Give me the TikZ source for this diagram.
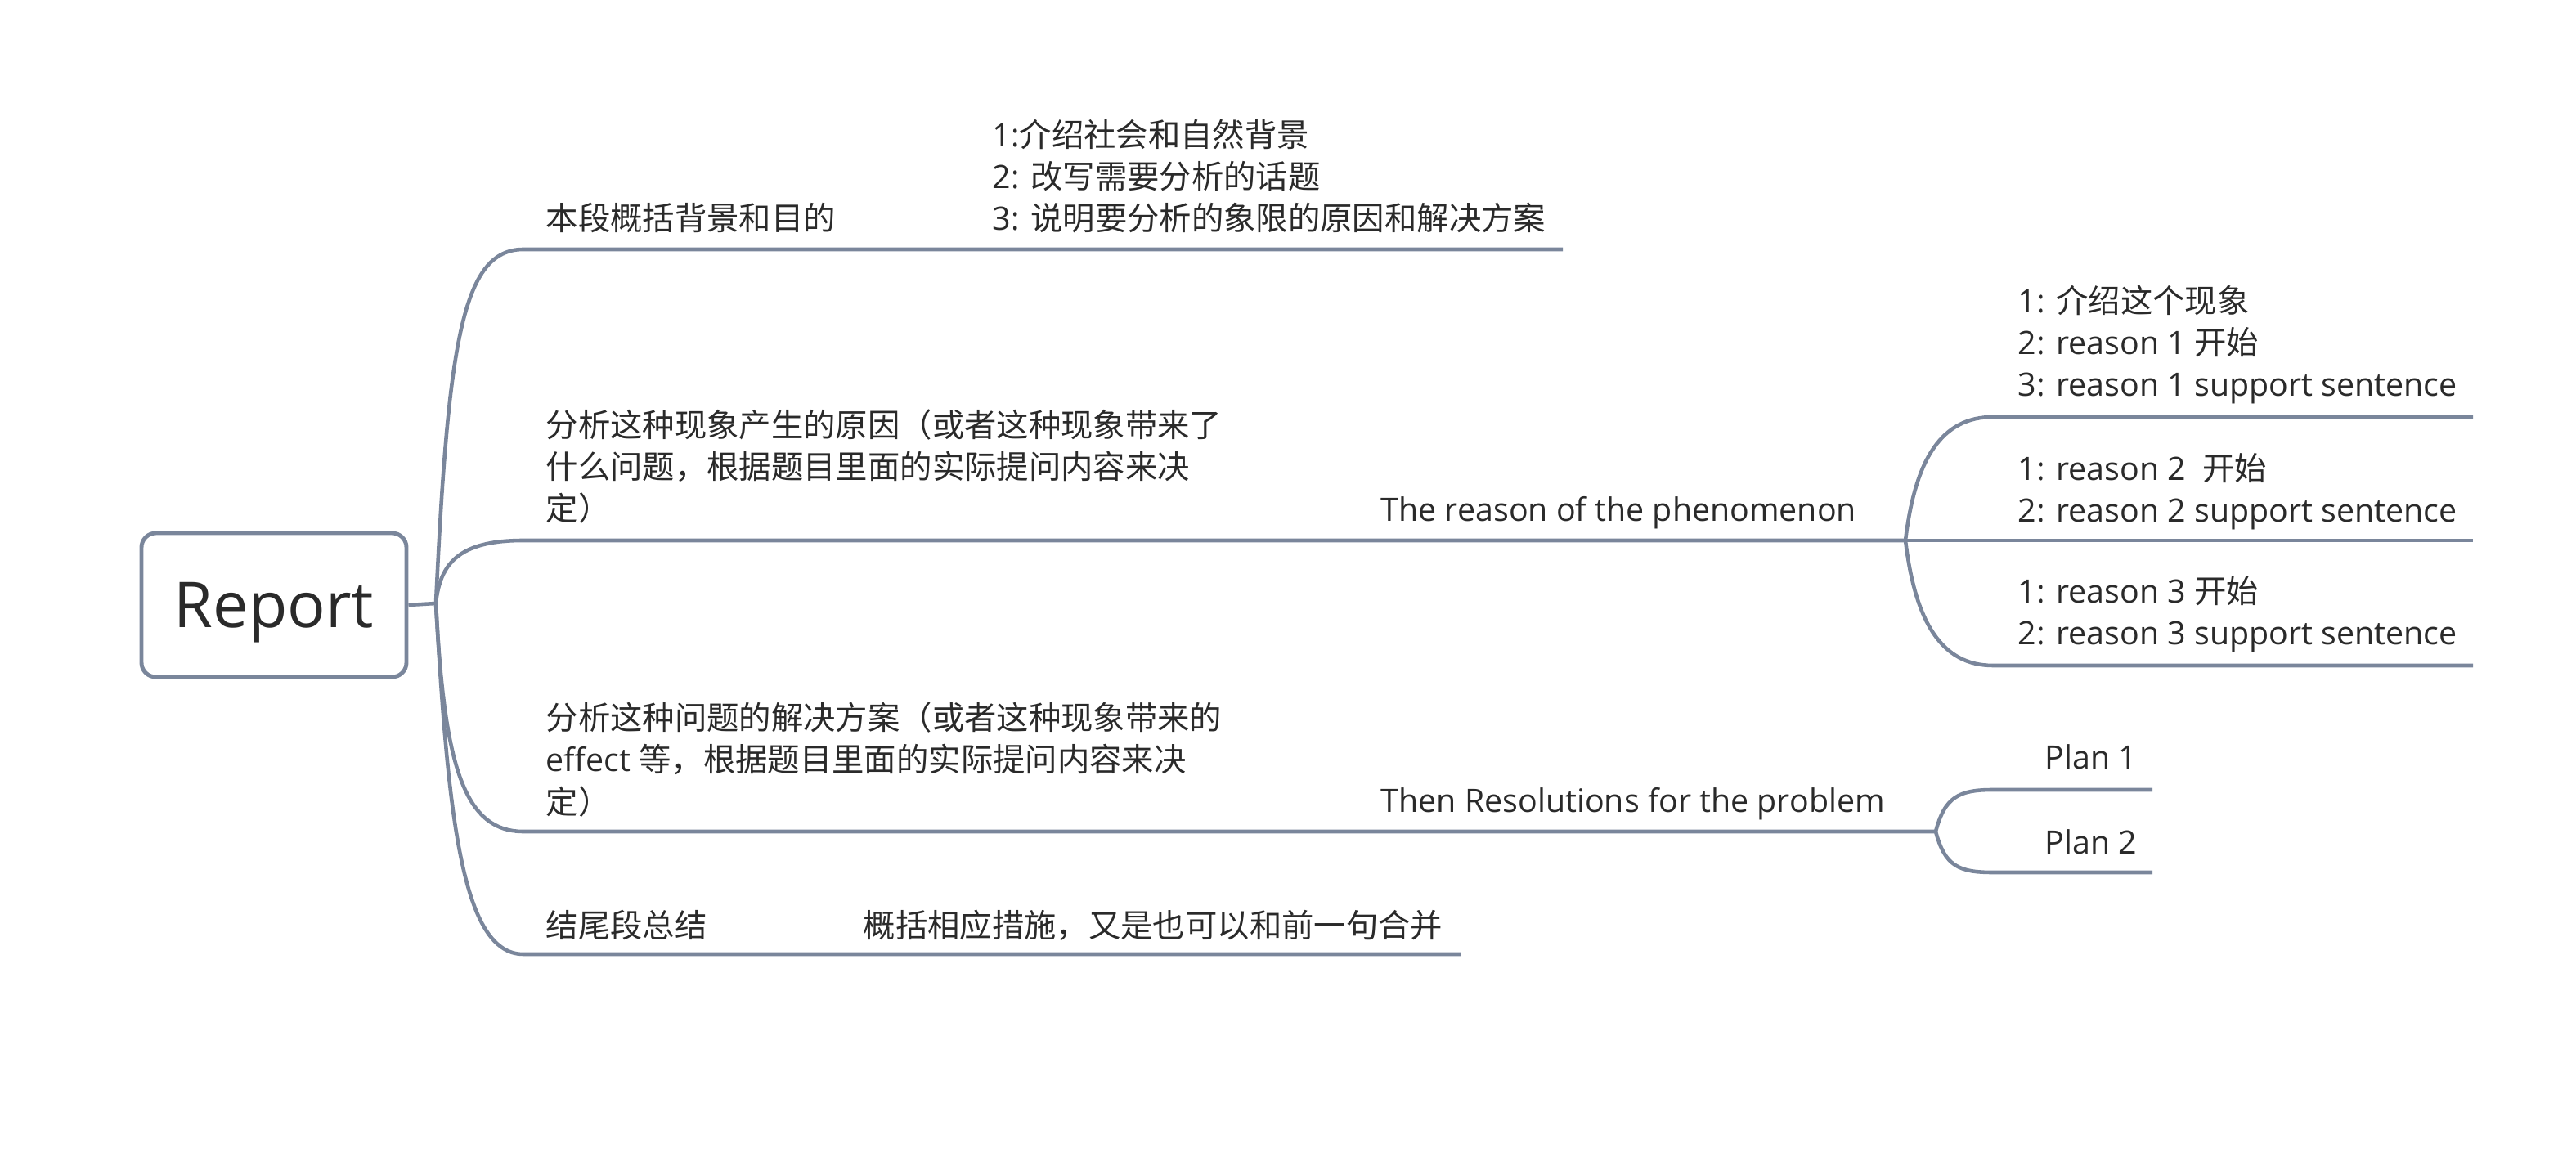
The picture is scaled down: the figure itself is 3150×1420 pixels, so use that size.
\documentclass[tikz,border=0pt]{standalone}
\usepackage{fontspec}
\setmainfont{Open Sans}
\newfontfamily\cjk{Noto Sans CJK SC}
\usepackage{tikz}

\definecolor{branchgray}{HTML}{7A869B}
\definecolor{inkgray}{HTML}{2A2A2A}

\begin{document}
\begin{tikzpicture}[x=0.1mm, y=-0.1mm,
    line/.style={draw=branchgray, line width=1.3pt},
    txt/.style={anchor=base west, inner sep=0pt, align=left, text=inkgray,
                font=\fontsize{11.2pt}{14.6pt}\selectfont}]
    \useasboundingbox (0,0) rectangle (3150,1420);

    % Zentrales Thema
    \node[draw=branchgray, line width=1.4pt, rounded corners=5pt,
          minimum width=3.24cm, minimum height=1.76cm, text=inkgray, text depth=0pt,
          font=\fontsize{22pt}{26pt}\selectfont] (report) at (335,740) {Report};
    \coordinate (hub) at (533,738);
    \draw[line] (report.east) -- (hub);

    % Anfangs- und Endpunkte der vier Hauptaeste
    \coordinate (b1s) at (640,305);  \coordinate (b1e) at (1911,305);
    \coordinate (b2s) at (640,661);  \coordinate (fork2) at (2330,661);
    \coordinate (b3s) at (640,1017); \coordinate (fork3) at (2367,1017);
    \coordinate (b4s) at (640,1167); \coordinate (b4e) at (1786,1167);

    \draw[line] (hub) .. controls (548,420) and (565,305) .. (b1s) -- (b1e);
    \draw[line] (hub) .. controls (538,690) and (560,661) .. (b2s) -- (fork2);
    \draw[line] (hub) .. controls (543,930) and (565,1017) .. (b3s) -- (fork3);
    \draw[line] (hub) .. controls (548,1000) and (565,1167) .. (b4s) -- (b4e);

    % Ast 1: Einleitung (Mehrzeiler sitzen mit der letzten Grundlinie)
    \node[txt] (bg) at (667,282) {\cjk 本段概括背景和目的};
    \node[txt] (bglist) at (1213,282) {1:{\cjk 介绍社会和自然背景}\\
        2: {\cjk 改写需要分析的话题}\\
        3: {\cjk 说明要分析的象限的原因和解决方案}};

    % Ast 2: Ursachen
    \node[txt] (cause) at (667,637) {\cjk 分析这种现象产生的原因（或者这种现象带来了\\
        \cjk 什么问题，根据题目里面的实际提问内容来决\\
        \cjk 定）};
    \node[txt] (reason) at (1688,638) {The reason of the phenomenon};

    % drei Gruende
    \coordinate (r1s) at (2437,510);  \coordinate (r1e) at (3024,510);
    \coordinate (r2e) at (3024,661);
    \coordinate (r3s) at (2437,814);  \coordinate (r3e) at (3024,814);
    \draw[line] (fork2) .. controls (2342,560) and (2375,510) .. (r1s) -- (r1e);
    \draw[line] (fork2) -- (r2e);
    \draw[line] (fork2) .. controls (2342,762) and (2375,814) .. (r3s) -- (r3e);

    \node[txt] (reasonA) at (2467,485) {1: {\cjk 介绍这个现象}\\
        2: reason 1 {\cjk 开始}\\
        3: reason 1 support sentence};
    \node[txt] (reasonB) at (2467,639) {1: reason 2\ \ {\cjk 开始}\\
        2: reason 2 support sentence};
    \node[txt] (reasonC) at (2467,789) {1: reason 3 {\cjk 开始}\\
        2: reason 3 support sentence};

    % Ast 3: Loesungen
    \node[txt] (solve) at (667,995) {\cjk 分析这种问题的解决方案（或者这种现象带来的\\
        effect {\cjk 等，根据题目里面的实际提问内容来决}\\
        \cjk 定）};
    \node[txt] (resolve) at (1688,993) {Then Resolutions for the problem};

    \coordinate (p1s) at (2437,966);  \coordinate (p1e) at (2632,966);
    \coordinate (p2s) at (2437,1067); \coordinate (p2e) at (2632,1067);
    \draw[line] (fork3) .. controls (2378,975) and (2395,966) .. (p1s) -- (p1e);
    \draw[line] (fork3) .. controls (2378,1059) and (2395,1067) .. (p2s) -- (p2e);
    \node[txt] (plan1) at (2500,941) {Plan 1};
    \node[txt] (plan2) at (2500,1044) {Plan 2};

    % Ast 4: Schluss
    \node[txt] (close) at (667,1146) {\cjk 结尾段总结};
    \node[txt] (merge) at (1055,1146) {\cjk 概括相应措施，又是也可以和前一句合并};
\end{tikzpicture}
\end{document}
